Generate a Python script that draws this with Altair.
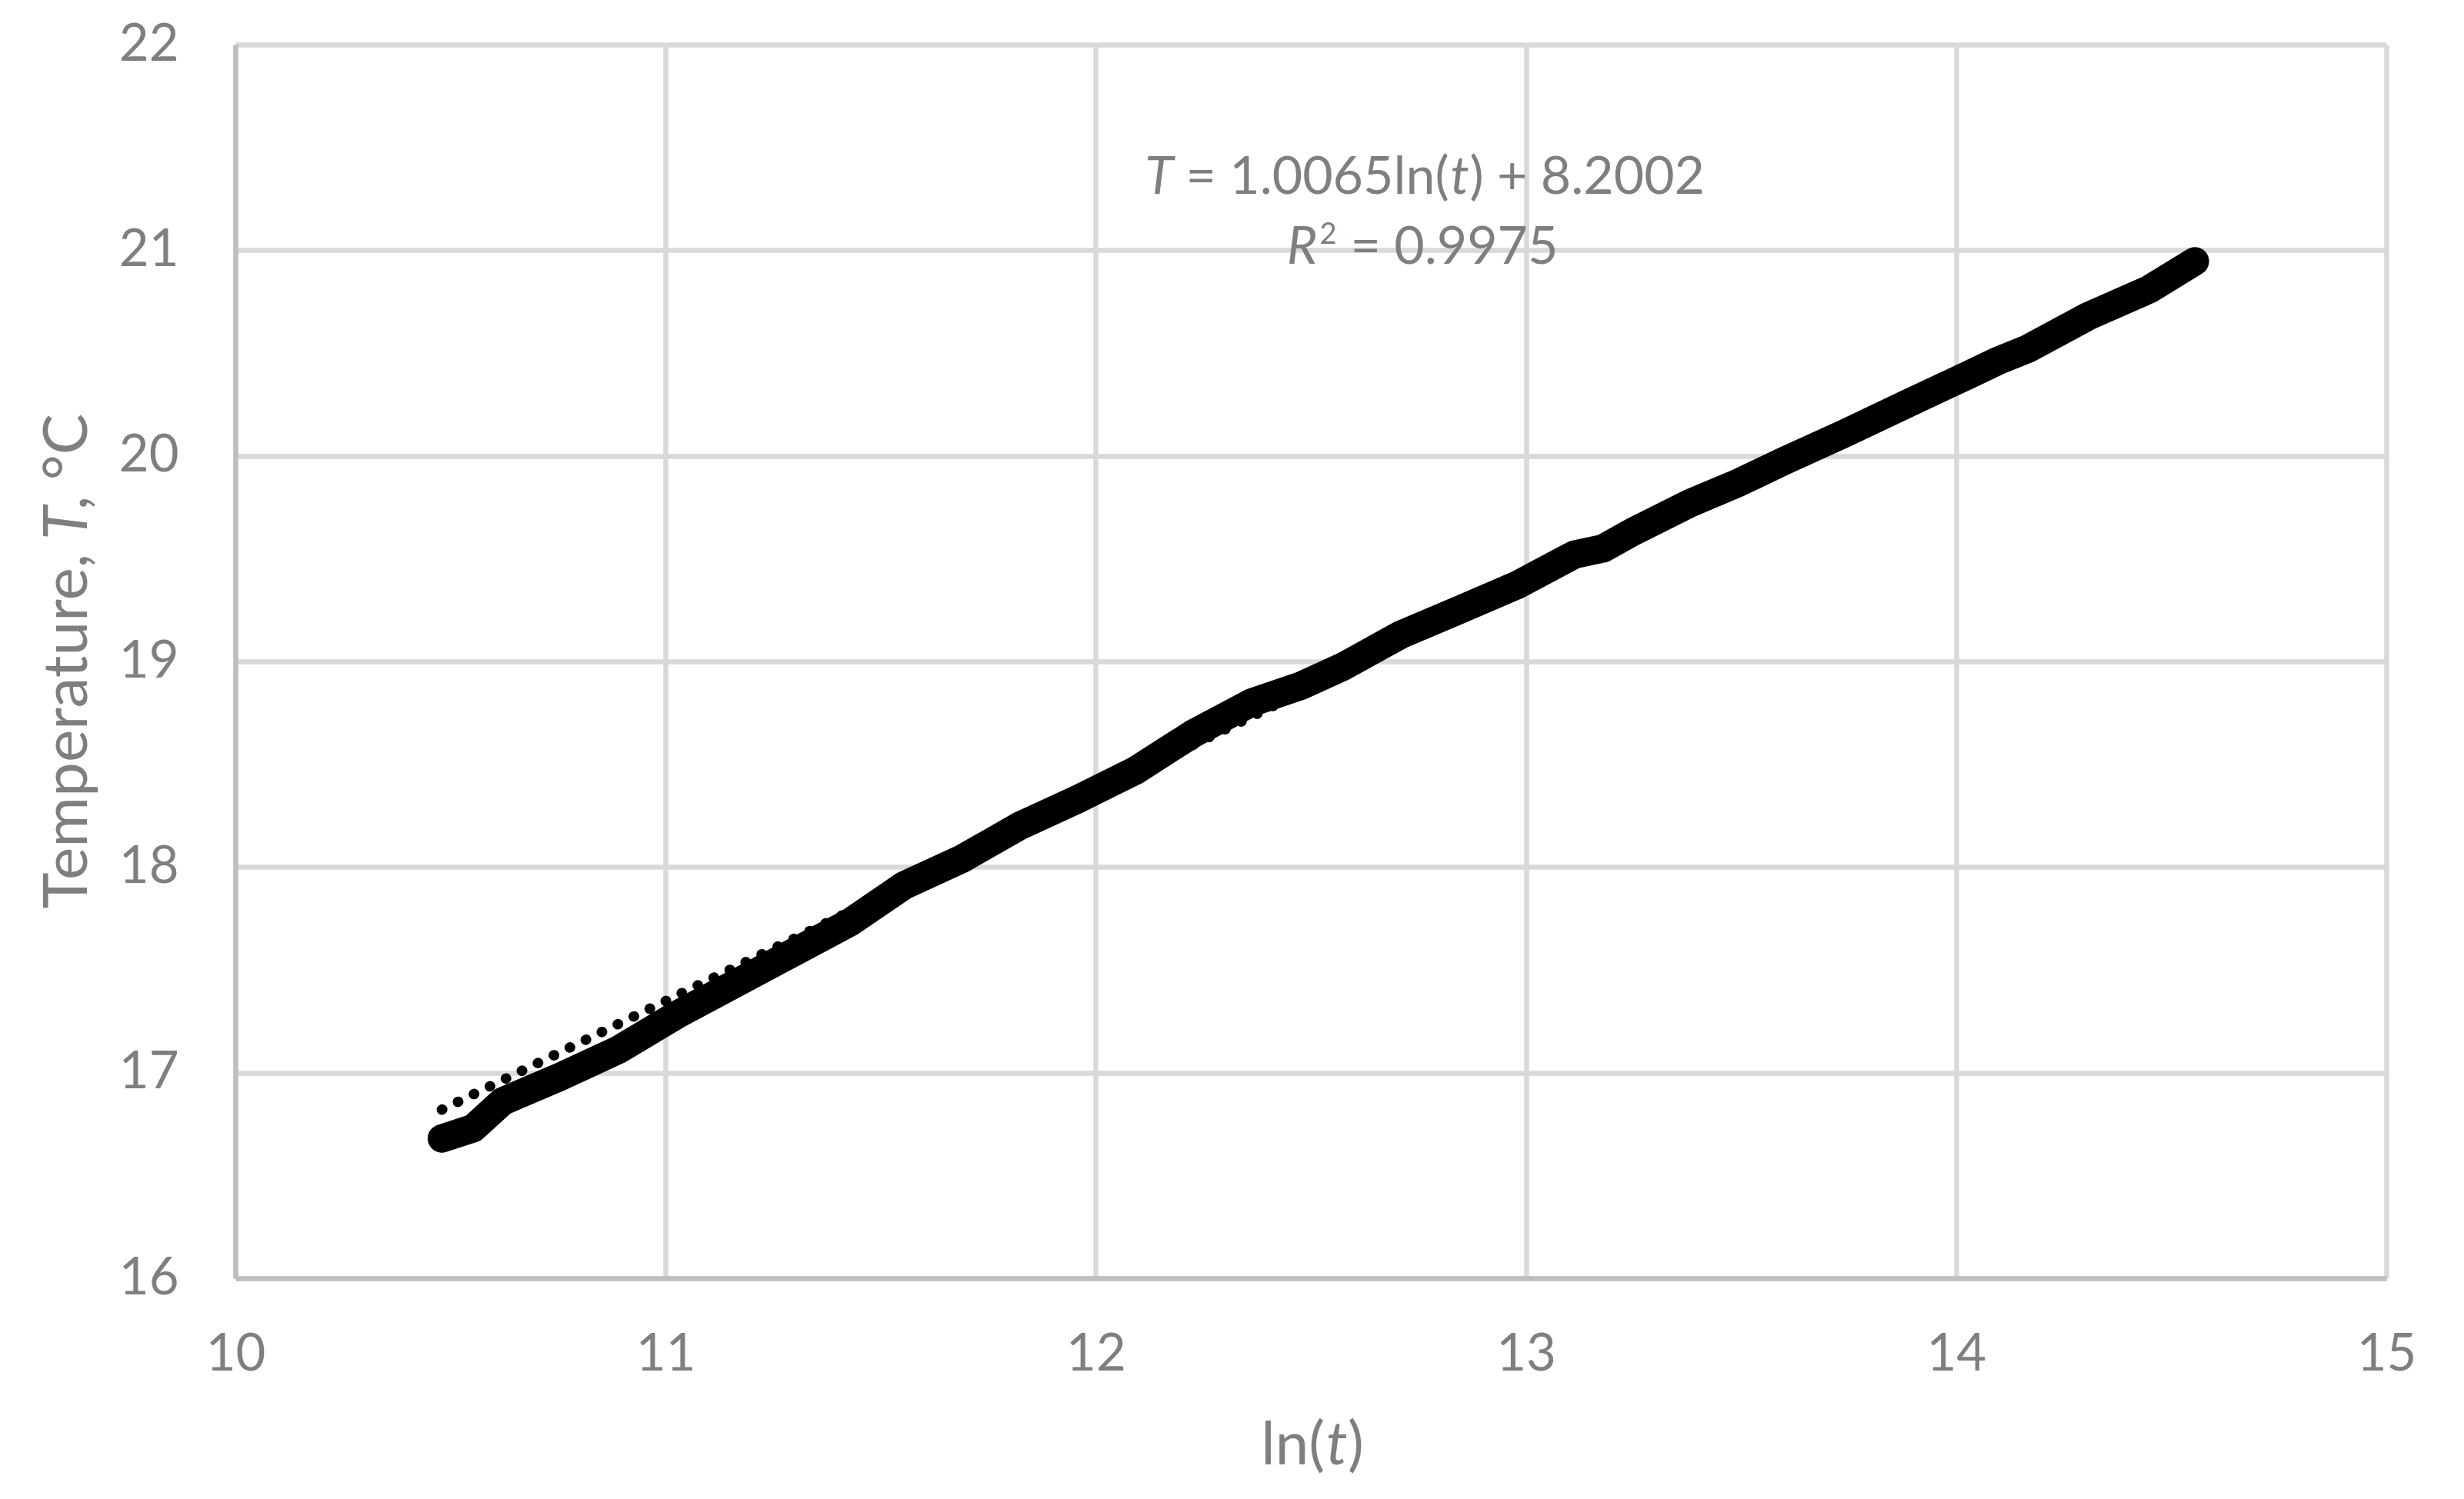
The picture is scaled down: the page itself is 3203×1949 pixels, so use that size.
import altair as alt
import pandas as pd

# ---- data ----
ln_t = [10.48, 10.553, 10.621, 10.755, 10.889, 11.025, 11.159, 11.293, 11.428,
        11.554, 11.689, 11.823, 11.958, 12.093, 12.227, 12.362, 12.475, 12.575,
        12.709, 12.844, 12.978, 13.113, 13.18, 13.248, 13.382, 13.495, 13.60,
        13.742, 13.883, 14.025, 14.095, 14.166, 14.308, 14.449, 14.555]
temp = [16.68, 16.73, 16.86, 16.98, 17.11, 17.28, 17.43, 17.58, 17.73,
        17.91, 18.04, 18.20, 18.33, 18.47, 18.65, 18.80, 18.88, 18.975,
        19.13, 19.25, 19.37, 19.52, 19.55, 19.63, 19.77, 19.87, 19.975,
        20.11, 20.25, 20.39, 20.46, 20.52, 20.68, 20.81, 20.946]
trend_x = [10.48, 14.555]
trend_y = [16.82, 20.96]
x_ticks = [10, 11, 12, 13, 14, 15]
y_ticks = [16, 17, 18, 19, 20, 21, 22]

NB = "\u00a0"
eq_parts = ["T", "=" + NB + "1.0065ln(", "t", ")" + NB + "+" + NB + "8.2002"]
r2_parts = ["R", "2", "=" + NB + "0.9975"]
ylabel_parts = ["Temperature,", "T", "," + NB + "\u00b0C"]
xlabel_parts = ["ln(", "t", ")"]

FONT = "Lato"
GRAY = "#7f7f7f"
W, H = 2796, 1604

xs = alt.Scale(domain=[10, 15], nice=False, zero=False)
ys = alt.Scale(domain=[16, 22], nice=False, zero=False)
xaxis = alt.Axis(values=x_ticks, title=None, grid=True, ticks=False,
                 labelFont=FONT, labelFontSize=67, labelColor=GRAY,
                 labelPadding=119, labelBaseline="alphabetic", labelFlush=False,
                 domainColor="#bfbfbf", domainWidth=6.5,
                 gridColor="#d9d9d9", gridWidth=6.5, format="d")
yaxis = alt.Axis(values=y_ticks, title=None, grid=True, ticks=False,
                 labelFont=FONT, labelFontSize=67, labelColor=GRAY,
                 labelPadding=74, labelBaseline="middle", labelFlush=False,
                 domainColor="#bfbfbf", domainWidth=6.5,
                 gridColor="#d9d9d9", gridWidth=6.5, format="d")

X = lambda: alt.X("x:Q", scale=xs, axis=xaxis)
Y = lambda: alt.Y("T:Q", scale=ys, axis=yaxis)

df = pd.DataFrame({"x": ln_t, "T": temp})
tr = pd.DataFrame({"x": trend_x, "T": trend_y})

band = alt.Chart(df).mark_line(color="black", strokeWidth=37, strokeCap="round",
                               strokeJoin="round").encode(x=X(), y=Y(), order="x:Q")
pts = alt.Chart(df).mark_circle(color="black", size=1150, opacity=1).encode(x=X(), y=Y())
trend = alt.Chart(tr).mark_line(color="black", strokeWidth=13.5, strokeCap="round",
                                strokeDash=[0.5, 22.6]).encode(x=X(), y=Y())


def seg(xv, tv, text, dx=0, dy=0, align="left", italic=False, size=68, angle=0, xpix=None):
    d = pd.DataFrame({"x": [xv], "T": [tv]})
    kw = dict(text=text, font=FONT, fontSize=size, color=GRAY, align=align,
              baseline="alphabetic", dx=dx, dy=dy)
    if italic:
        kw["fontStyle"] = "italic"
    if angle:
        kw["angle"] = angle
    m = alt.Chart(d).mark_text(**kw)
    if xpix is not None:
        return m.encode(x=alt.value(xpix), y=Y())
    return m.encode(x=X(), y=Y())


ax, ay1, ay2 = 12.76, 21.275, 20.934
layers = [trend, band, pts,
          seg(ax, ay1, eq_parts[0], dx=-324, align="right", italic=True),
          seg(ax, ay1, eq_parts[1], dx=-308, align="left"),
          seg(ax, ay1, eq_parts[2], dx=36, align="left", italic=True),
          seg(ax, ay1, eq_parts[3], dx=61, align="left"),
          seg(ax, ay2, r2_parts[0], dx=-137, align="right", italic=True),
          seg(ax, ay2, r2_parts[1], dx=-134, dy=-26, align="left", size=38),
          seg(ax, ay2, r2_parts[2], dx=-94, align="left"),
          # x title
          seg(12.5, 16, xlabel_parts[0], dx=18, dy=242, align="right", size=78),
          seg(12.5, 16, xlabel_parts[1], dx=20, dy=242, align="left", size=78, italic=True),
          seg(12.5, 16, xlabel_parts[2], dx=48, dy=242, align="left", size=78),
          # y title (rotated)
          seg(0, 19, ylabel_parts[0], dx=140, align="right", size=80, angle=270, xpix=-193),
          seg(0, 19, ylabel_parts[1], dx=158, align="left", size=80, angle=270, xpix=-193, italic=True),
          seg(0, 19, ylabel_parts[2], dx=197, align="left", size=80, angle=270, xpix=-193),
          ]

chart = alt.layer(*layers).properties(
    width=W, height=H, autosize="none",
    padding={"left": 298, "top": 50, "right": 90, "bottom": 270},
).configure_view(stroke=None).configure(background="white")

chart.save("out.html", embed_options={"renderer": "svg", "actions": False})
